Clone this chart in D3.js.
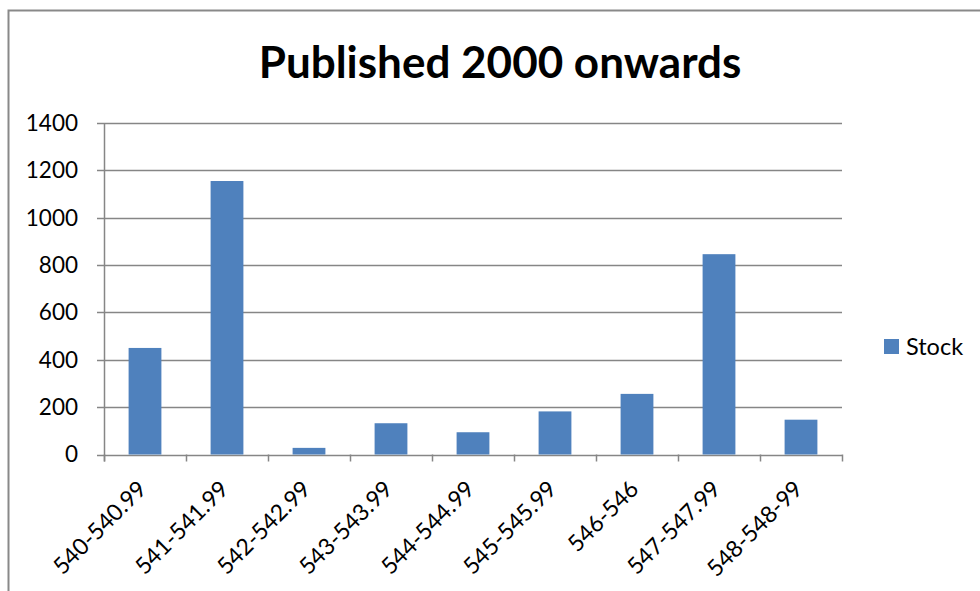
<!DOCTYPE html>
<html>
<head>
<meta charset="utf-8">
<script src="https://cdn.jsdelivr.net/npm/d3@7"></script>
<style>
  body { margin: 0; background: #fff; }
  text { font-family: Lato, "Open Sans", sans-serif; fill: #000; }
</style>
</head>
<body>
<div id="chart"></div>
<script>
const categories = ["540-540.99", "541-541.99", "542-542.99", "543-543.99", "544-544.99",
  "545-545.99", "546-546", "547-547.99", "548-548-99"];
const stock = [450, 1155, 28, 132, 94, 182, 256, 846, 147];
const yTicks = [0, 200, 400, 600, 800, 1000, 1200, 1400];
const seriesName = "Stock";
const title = "Published 2000 onwards";

const config = { width: 980, height: 591, left: 104, top: 123, plotW: 738, plotH: 331.5 };
const barColor = "#4f81bd";
const gridColor = "#868686";

const svg = d3.select("#chart").append("svg")
  .attr("width", config.width)
  .attr("height", config.height);

// outer chart border (left and top visible)
svg.append("path")
  .attr("d", "M8.5,591 L8.5,10.5 L980,10.5")
  .attr("fill", "none")
  .attr("stroke", "#898989")
  .attr("stroke-width", 2);

svg.append("text")
  .attr("x", 500)
  .attr("y", 78)
  .attr("text-anchor", "middle")
  .style("font-size", "44px")
  .style("font-weight", "bold")
  .text(title);

const g = svg.append("g")
  .attr("transform", `translate(${config.left},${config.top})`);

const xScale = d3.scaleBand().domain(categories).range([0, config.plotW]).paddingInner(0.6).paddingOuter(0.3);
const yScale = d3.scaleLinear().domain([0, 1400]).range([config.plotH, 0]);

// gridlines with tick marks
g.append("g")
  .selectAll("line")
  .data(yTicks)
  .join("line")
    .attr("x1", -7)
    .attr("x2", config.plotW)
    .attr("y1", d => Math.round(yScale(d)) + 0.5)
    .attr("y2", d => Math.round(yScale(d)) + 0.5)
    .attr("stroke", gridColor)
    .attr("stroke-width", 1.5);

// y axis line
g.append("line")
  .attr("x1", 0.5).attr("x2", 0.5)
  .attr("y1", 0).attr("y2", config.plotH + 7)
  .attr("stroke", gridColor)
  .attr("stroke-width", 1.5);

// y labels
g.append("g")
  .selectAll("text")
  .data(yTicks)
  .join("text")
    .attr("x", -26)
    .attr("y", d => yScale(d))
    .attr("dy", "0.35em")
    .attr("text-anchor", "end")
    .style("font-size", "22.5px")
    .text(d => d);

// x tick marks at band boundaries
const step = xScale.step();
g.append("g")
  .selectAll("line")
  .data(d3.range(categories.length + 1))
  .join("line")
    .attr("x1", i => Math.round(i * step) + 0.5)
    .attr("x2", i => Math.round(i * step) + 0.5)
    .attr("y1", config.plotH)
    .attr("y2", config.plotH + 7)
    .attr("stroke", gridColor)
    .attr("stroke-width", 1.5);

// bars
g.append("g")
  .selectAll("rect")
  .data(stock)
  .join("rect")
    .attr("x", (d, i) => xScale(categories[i]))
    .attr("y", d => yScale(d))
    .attr("width", xScale.bandwidth())
    .attr("height", d => config.plotH - yScale(d))
    .attr("fill", barColor);

// x labels rotated
g.append("g")
  .selectAll("text")
  .data(categories)
  .join("text")
    .attr("text-anchor", "end")
    .attr("transform", d => `translate(${xScale(d) + xScale.bandwidth() / 2 + 3},${config.plotH + 36}) rotate(-45)`)
    .style("font-size", "23px")
    .text(d => d);

// legend
const legend = svg.append("g").attr("transform", "translate(884,339)");
legend.append("rect")
  .attr("width", 15).attr("height", 15)
  .attr("fill", barColor);
legend.append("text")
  .attr("x", 22)
  .attr("y", 16)
  .style("font-size", "23.5px")
  .text(seriesName);
</script>
</body>
</html>
